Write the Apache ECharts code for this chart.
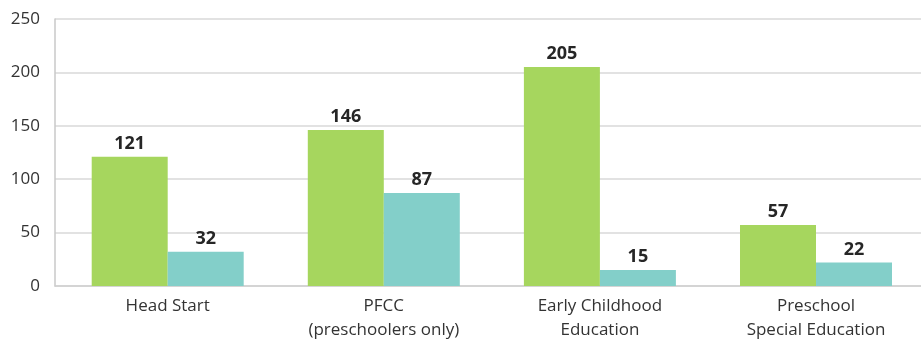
<!DOCTYPE html>
<html>
<head>
<meta charset="utf-8">
<script src="https://cdn.jsdelivr.net/npm/echarts@6/dist/echarts.min.js"></script>
<style>html,body{margin:0;padding:0;background:#fff;}#c{width:921px;height:339px;}</style>
</head>
<body>
<div id="c"></div>
<script>
var categories = ['Head Start', 'PFCC\n(preschoolers only)', 'Early Childhood\nEducation', 'Preschool\nSpecial Education'];
var seriesA = [121, 146, 205, 57];
var seriesB = [32, 87, 15, 22];
var yTicks = [0, 50, 100, 150, 200, 250];

var positions = categories.map(function (c, i) { return i; });
var chart = echarts.init(document.getElementById('c'), null, {renderer: 'canvas'});
var font = '"Open Sans", Lato, sans-serif';
var labelStyle = {show: true, position: 'top', distance: 4, fontFamily: font, fontWeight: 'bold', fontSize: 18, color: '#262626'};
chart.setOption({
  animation: false,
  grid: {left: 55, right: 0, top: 19, bottom: 53, containLabel: false, outerBoundsMode: 'none'},
  xAxis: {
    type: 'value',
    min: -0.5215,
    max: 3.4859,
    splitLine: {show: false},
    axisTick: {show: false},
    axisLine: {show: true, onZero: false, lineStyle: {color: '#D0D0D0', width: 1.5}},
    axisLabel: {
      customValues: positions,
      formatter: function (v) { return categories[Math.round(v)]; },
      fontFamily: font, fontSize: 17, color: '#333', margin: 8, lineHeight: 24
    }
  },
  yAxis: {
    type: 'value',
    min: yTicks[0],
    max: yTicks[yTicks.length - 1],
    interval: 50,
    axisLine: {show: true, onZero: false, lineStyle: {color: '#C8C8C8', width: 1.5}},
    axisTick: {show: false},
    splitLine: {show: true, lineStyle: {color: '#D9D9D9', width: 1.5}},
    axisLabel: {fontFamily: font, fontSize: 17, color: '#333', margin: 15}
  },
  series: [
    {type: 'bar', data: positions.map(function (p, i) { return [p, seriesA[i]]; }), barWidth: 76, barGap: '0%', itemStyle: {color: '#A6D65E'}, label: labelStyle},
    {type: 'bar', data: positions.map(function (p, i) { return [p, seriesB[i]]; }), barWidth: 76, barGap: '0%', itemStyle: {color: '#83CFC9'}, label: labelStyle}
  ]
});
</script>
</body>
</html>
